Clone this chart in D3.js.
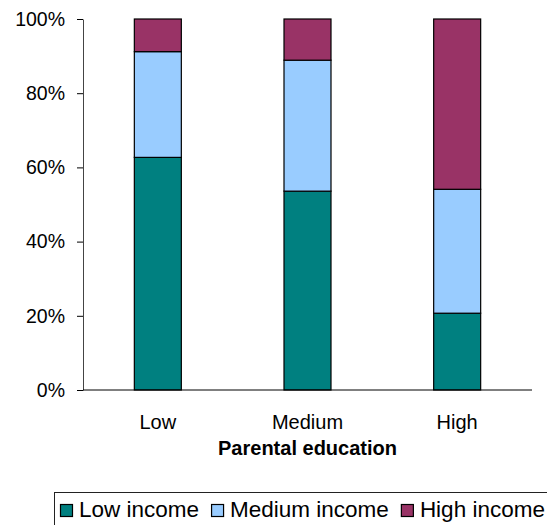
<!DOCTYPE html>
<html>
<head>
<meta charset="utf-8">
<script src="https://cdn.jsdelivr.net/npm/d3@7"></script>
<style>
  html, body { margin: 0; padding: 0; background: #fff; }
  svg { display: block; font-family: "Liberation Sans", Arial, sans-serif; }
</style>
</head>
<body>
<svg id="chart" width="547" height="525"></svg>
<script>
// Share of each income group by parental education (percent)
const categories = ["Low", "Medium", "High"];
const lowIncome = [62.7, 53.6, 20.7];
const mediumIncome = [28.5, 35.3, 33.4];
const highIncome = [8.8, 11.1, 45.9];
const seriesNames = ["Low income", "Medium income", "High income"];
const seriesKeys = ["low", "medium", "high"];
const seriesColors = ["#008080", "#99CCFF", "#993366"];
const yTicks = [0, 20, 40, 60, 80, 100];

const rows = categories.map((c, i) => ({
  category: c, low: lowIncome[i], medium: mediumIncome[i], high: highIncome[i]
}));

const svg = d3.select("#chart");
const margin = { left: 83, right: 15, top: 19, bottom: 135 };
const W = 547, H = 525;
const innerW = W - margin.left - margin.right;
const innerH = H - margin.top - margin.bottom;
const FONT = "'Liberation Sans', Arial, sans-serif";

const g = svg.append("g").attr("transform", `translate(${margin.left},${margin.top})`);

const x = d3.scaleBand().domain(categories).range([0, innerW]).paddingInner(0.686).paddingOuter(0.343);
const y = d3.scaleLinear().domain([0, 100]).range([innerH, 0]);
const color = d3.scaleOrdinal().domain(seriesKeys).range(seriesColors);

const stacked = d3.stack().keys(seriesKeys)(rows);

// stacked bars
g.selectAll("g.layer").data(stacked).join("g")
  .attr("class", "layer")
  .attr("fill", d => color(d.key))
  .selectAll("rect").data(d => d).join("rect")
  .attr("x", d => x(d.data.category))
  .attr("y", d => y(d[1]))
  .attr("width", x.bandwidth())
  .attr("height", d => y(d[0]) - y(d[1]))
  .attr("stroke", "#000")
  .attr("stroke-width", 1.2);

// y axis
const yAxis = g.append("g")
  .call(d3.axisLeft(y).tickValues(yTicks).tickFormat(d => d + "%").tickSize(6).tickSizeOuter(0).tickPadding(12));
yAxis.select(".domain").attr("stroke", "#444");
yAxis.selectAll(".tick line").attr("stroke", "#000");
yAxis.selectAll("text").attr("font-size", 19.5).attr("fill", "#000").attr("font-family", FONT);

// x axis
const xAxis = g.append("g").attr("transform", `translate(0,${innerH})`)
  .call(d3.axisBottom(x).tickSize(0).tickPadding(25));
xAxis.select(".domain").remove();
xAxis.selectAll("text").attr("font-size", 20).attr("fill", "#000").attr("font-family", FONT);
g.append("line")
  .attr("x1", 0).attr("x2", innerW)
  .attr("y1", innerH).attr("y2", innerH)
  .attr("stroke", "#000").attr("stroke-width", 1);

// axis title
g.append("text")
  .attr("x", innerW / 2).attr("y", 436)
  .attr("text-anchor", "middle")
  .attr("font-size", 20).attr("font-weight", "bold")
  .text("Parental education");

// legend (runs off the right and bottom edges)
const legend = svg.append("g").attr("transform", "translate(54,492)");
legend.append("rect")
  .attr("x", 0.5).attr("y", 0.5).attr("width", 520).attr("height", 60)
  .attr("fill", "#fff").attr("stroke", "#222").attr("stroke-width", 1);
let cx = 6;
seriesKeys.forEach((k, i) => {
  legend.append("rect")
    .attr("x", cx + 0.5).attr("y", 12.5).attr("width", 12).attr("height", 12)
    .attr("fill", color(k)).attr("stroke", "#000").attr("stroke-width", 1.2);
  cx += 19;
  const t = legend.append("text")
    .attr("x", cx).attr("y", 25)
    .attr("font-size", 22.5)
    .text(seriesNames[i]);
  cx += t.node().getComputedTextLength() + 12;
});
</script>
</body>
</html>
